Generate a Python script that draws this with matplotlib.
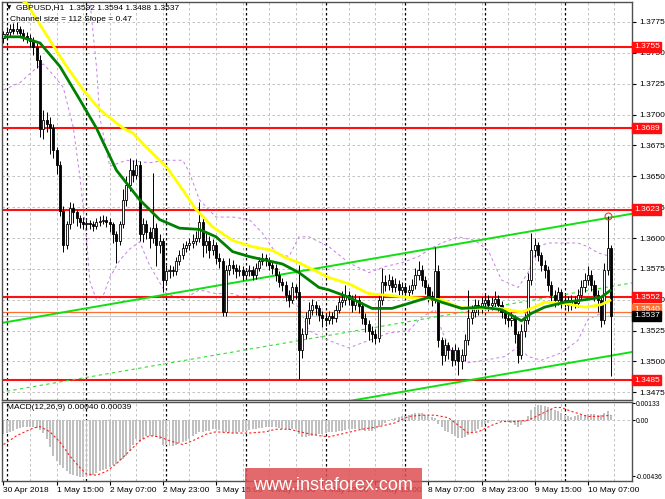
import numpy as np
import matplotlib
matplotlib.use('Agg')
import matplotlib.pyplot as plt
from matplotlib.patches import Rectangle
from matplotlib.transforms import blended_transform_factory

plt.rcParams['font.family'] = ['Liberation Sans', 'DejaVu Sans']

# GBPUSD H1, 30 Apr 23:00 .. 10 May 14:00 (184 bars)
first_open = 1.3762
close = [
    1.3765, 1.3767, 1.3769, 1.3768, 1.3769, 1.3766, 1.3764, 1.3762, 1.3760, 1.3755,
    1.3744, 1.3688, 1.3696, 1.3692, 1.3689, 1.3671, 1.3659, 1.3622, 1.3594, 1.3611,
    1.3624, 1.3621, 1.3616, 1.3613, 1.3611, 1.3612, 1.3611, 1.3610, 1.3613, 1.3614,
    1.3615, 1.3613, 1.3611, 1.3603, 1.3598, 1.3611, 1.3631, 1.3643, 1.3655, 1.3651,
    1.3659, 1.3603, 1.3611, 1.3605, 1.3600, 1.3608, 1.3594, 1.3598, 1.3566, 1.3573,
    1.3574, 1.3573, 1.3581, 1.3586, 1.3592, 1.3594, 1.3596, 1.3598, 1.3600, 1.3613,
    1.3594, 1.3598, 1.3590, 1.3594, 1.3584, 1.3581, 1.3540, 1.3574, 1.3578, 1.3576,
    1.3573, 1.3574, 1.3570, 1.3573, 1.3574, 1.3570, 1.3576, 1.3581, 1.3584, 1.3582,
    1.3578, 1.3576, 1.3570, 1.3564, 1.3562, 1.3554, 1.3550, 1.3560, 1.3556, 1.3509,
    1.3522, 1.3535, 1.3542, 1.3546, 1.3543, 1.3538, 1.3535, 1.3534, 1.3537, 1.3535,
    1.3542, 1.3548, 1.3550, 1.3554, 1.3551, 1.3546, 1.3550, 1.3545, 1.3535, 1.3530,
    1.3525, 1.3522, 1.3519, 1.3550, 1.3564, 1.3562, 1.3566, 1.3560, 1.3563, 1.3558,
    1.3560, 1.3556, 1.3558, 1.3562, 1.3570, 1.3574, 1.3566, 1.3560, 1.3553, 1.3550,
    1.3573, 1.3517, 1.3505, 1.3513, 1.3509, 1.3501, 1.3509, 1.3500, 1.3505, 1.3517,
    1.3535, 1.3540, 1.3546, 1.3543, 1.3547, 1.3550, 1.3546, 1.3547, 1.3551, 1.3546,
    1.3540, 1.3535, 1.3534, 1.3535, 1.3522, 1.3505, 1.3525, 1.3534, 1.3566, 1.3590,
    1.3594, 1.3586, 1.3578, 1.3574, 1.3562, 1.3554, 1.3550, 1.3556, 1.3548, 1.3550,
    1.3546, 1.3550, 1.3547, 1.3554, 1.3560, 1.3566, 1.3570, 1.3562, 1.3554, 1.3550,
    1.3534, 1.3574, 1.3592, 1.3537]
high = [
    1.3768, 1.3771, 1.3773, 1.3774, 1.3775, 1.3772, 1.3769, 1.3767, 1.3765, 1.3763,
    1.3758, 1.3748, 1.3704, 1.3702, 1.3698, 1.3692, 1.3674, 1.3662, 1.3626, 1.3614,
    1.3629, 1.3628, 1.3623, 1.3619, 1.3617, 1.3615, 1.3615, 1.3614, 1.3616, 1.3618,
    1.3619, 1.3618, 1.3616, 1.3613, 1.3606, 1.3614, 1.3640, 1.3650, 1.3665, 1.3663,
    1.3664, 1.3662, 1.3616, 1.3615, 1.3609, 1.3653, 1.3612, 1.3603, 1.3600, 1.3578,
    1.3578, 1.3577, 1.3585, 1.3590, 1.3596, 1.3598, 1.3600, 1.3603, 1.3606, 1.3629,
    1.3618, 1.3604, 1.3602, 1.3599, 1.3597, 1.3588, 1.3584, 1.3578, 1.3584, 1.3582,
    1.3579, 1.3578, 1.3577, 1.3576, 1.3578, 1.3577, 1.3580, 1.3585, 1.3588, 1.3587,
    1.3585, 1.3581, 1.3579, 1.3573, 1.3568, 1.3565, 1.3558, 1.3564, 1.3563, 1.3578,
    1.3527, 1.3540, 1.3548, 1.3551, 1.3549, 1.3546, 1.3541, 1.3539, 1.3541, 1.3540,
    1.3546, 1.3552, 1.3557, 1.3562, 1.3557, 1.3554, 1.3555, 1.3553, 1.3548, 1.3539,
    1.3534, 1.3529, 1.3526, 1.3555, 1.3576, 1.3570, 1.3571, 1.3569, 1.3568, 1.3566,
    1.3564, 1.3563, 1.3562, 1.3567, 1.3576, 1.3581, 1.3578, 1.3569, 1.3563, 1.3557,
    1.3593, 1.3578, 1.3520, 1.3518, 1.3516, 1.3512, 1.3514, 1.3512, 1.3510, 1.3522,
    1.3558, 1.3546, 1.3551, 1.3550, 1.3552, 1.3555, 1.3554, 1.3552, 1.3557, 1.3554,
    1.3549, 1.3543, 1.3539, 1.3540, 1.3538, 1.3525, 1.3530, 1.3539, 1.3572, 1.3604,
    1.3600, 1.3597, 1.3589, 1.3582, 1.3577, 1.3565, 1.3558, 1.3560, 1.3559, 1.3555,
    1.3553, 1.3554, 1.3553, 1.3559, 1.3566, 1.3572, 1.3577, 1.3574, 1.3566, 1.3558,
    1.3552, 1.3580, 1.3618, 1.3594]
low = [
    1.3758, 1.3762, 1.3764, 1.3765, 1.3765, 1.3763, 1.3760, 1.3758, 1.3755, 1.3748,
    1.3738, 1.3682, 1.3680, 1.3686, 1.3668, 1.3665, 1.3652, 1.3618, 1.3589, 1.3591,
    1.3607, 1.3612, 1.3610, 1.3608, 1.3607, 1.3608, 1.3607, 1.3606, 1.3607, 1.3610,
    1.3611, 1.3609, 1.3605, 1.3596, 1.3580, 1.3594, 1.3608, 1.3626, 1.3638, 1.3645,
    1.3648, 1.3598, 1.3597, 1.3599, 1.3592, 1.3596, 1.3577, 1.3588, 1.3556, 1.3562,
    1.3568, 1.3569, 1.3570, 1.3578, 1.3583, 1.3589, 1.3590, 1.3592, 1.3594, 1.3597,
    1.3585, 1.3588, 1.3584, 1.3586, 1.3579, 1.3576, 1.3537, 1.3537, 1.3570, 1.3571,
    1.3568, 1.3569, 1.3566, 1.3567, 1.3569, 1.3566, 1.3567, 1.3573, 1.3578, 1.3577,
    1.3574, 1.3571, 1.3565, 1.3560, 1.3557, 1.3549, 1.3544, 1.3547, 1.3551, 1.3486,
    1.3503, 1.3518, 1.3530, 1.3538, 1.3538, 1.3533, 1.3528, 1.3529, 1.3530, 1.3530,
    1.3532, 1.3539, 1.3544, 1.3546, 1.3546, 1.3540, 1.3542, 1.3539, 1.3530, 1.3524,
    1.3517, 1.3516, 1.3514, 1.3516, 1.3546, 1.3557, 1.3558, 1.3556, 1.3556, 1.3554,
    1.3554, 1.3552, 1.3553, 1.3555, 1.3559, 1.3566, 1.3561, 1.3555, 1.3548, 1.3545,
    1.3547, 1.3512, 1.3497, 1.3500, 1.3502, 1.3496, 1.3497, 1.3489, 1.3494, 1.3500,
    1.3513, 1.3530, 1.3536, 1.3538, 1.3539, 1.3543, 1.3541, 1.3542, 1.3543, 1.3541,
    1.3535, 1.3530, 1.3528, 1.3529, 1.3515, 1.3499, 1.3502, 1.3520, 1.3530, 1.3562,
    1.3585, 1.3581, 1.3573, 1.3568, 1.3557, 1.3549, 1.3544, 1.3546, 1.3543, 1.3544,
    1.3541, 1.3542, 1.3543, 1.3544, 1.3550, 1.3556, 1.3562, 1.3557, 1.3549, 1.3540,
    1.3528, 1.3530, 1.3570, 1.3488]

# moving averages (bar index, price)
ma_fast_idx = [0, 5, 11, 17, 23, 28, 34, 41, 47, 53, 59, 64, 69, 74, 79, 84, 89, 95,
               98, 104, 111, 117, 122, 128, 132, 138, 144, 150, 156, 159, 163, 169, 175, 180, 183]
ma_fast = [1.3763, 1.3763, 1.3758, 1.3739, 1.3712, 1.3689, 1.3655, 1.3631, 1.3615, 1.3608,
           1.3607, 1.3601, 1.3589, 1.3585, 1.3582, 1.3579, 1.3572, 1.3560,
           1.3558, 1.3552, 1.3543, 1.3543, 1.3547, 1.3552, 1.3548, 1.3543, 1.3544, 1.3542,
           1.3533, 1.3539, 1.3544, 1.3548, 1.3550, 1.3552, 1.3558]
ma_slow_idx = [4, 7, 14, 19, 24, 29, 36, 39, 44, 49, 54, 58, 63, 69, 75, 81, 85, 89, 95,
               98, 104, 110, 114, 122, 132, 137, 141, 150, 156, 159, 163, 169, 175, 180, 183]
ma_slow = [1.3795, 1.3790, 1.3760, 1.3739, 1.3720, 1.3704, 1.3689, 1.3685, 1.3671, 1.3658,
           1.3639, 1.3623, 1.3609, 1.3598, 1.3593, 1.3590, 1.3584, 1.3580, 1.3572,
           1.3568, 1.3563, 1.3555, 1.3554, 1.3552, 1.3550, 1.3544, 1.3543, 1.3543, 1.3540,
           1.3543, 1.3548, 1.3547, 1.3544, 1.3546, 1.3550]

# bands (purple dashed)
band_up_idx = [24, 26, 28, 29, 32, 37, 44, 49, 54, 56, 59, 64, 69, 74, 78, 82, 86, 89, 92,
               98, 104, 110, 115, 120, 125, 129, 132, 137, 142, 146, 150, 155, 158, 161,
               164, 173, 176, 179, 183]
band_up = [1.3815, 1.3793, 1.3739, 1.3698, 1.3658, 1.3663, 1.3661, 1.3663, 1.3663, 1.3653,
           1.3631, 1.3617, 1.3617, 1.3615, 1.3604, 1.3588, 1.3585, 1.3601, 1.3601,
           1.3593, 1.3580, 1.3572, 1.3577, 1.3580, 1.3585, 1.3592, 1.3596, 1.3601, 1.3598,
           1.3590, 1.3566, 1.3560, 1.3572, 1.3593, 1.3596, 1.3596, 1.3593, 1.3588, 1.3585]
band_lo_idx = [0, 5, 10, 12, 15, 18, 21, 23, 25, 26, 28, 30, 32, 35, 38, 41, 44, 49, 54,
               59, 64, 69, 74, 79, 84, 89, 92, 98, 104, 110, 116, 122, 126, 130, 132, 135,
               140, 145, 151, 155, 158, 162, 168, 173, 176, 180, 183]
band_lo = [1.3720, 1.3726, 1.3738, 1.3741, 1.3732, 1.3722, 1.3690, 1.3650, 1.3600, 1.3565,
           1.3550, 1.3553, 1.3568, 1.3582, 1.3591, 1.3597, 1.3578, 1.3555, 1.3550,
           1.3558, 1.3555, 1.3555, 1.3550, 1.3552, 1.3552, 1.3544, 1.3525, 1.3517, 1.3511,
           1.3517, 1.3523, 1.3525, 1.3536, 1.3542, 1.3525, 1.3507, 1.3499, 1.3501, 1.3504,
           1.3512, 1.3504, 1.3501, 1.3507, 1.3517, 1.3534, 1.3539, 1.3536]

# regression channel, size 112 points, slope 0.47
chan_idx = [-1, 190]
chan_top = [1.3531, 1.3620]
chan_mid = [1.3475, 1.3564]
chan_bot = [1.3419, 1.3508]

levels = [1.3755, 1.3689, 1.3623, 1.3552, 1.3485]
price_ticks = [1.3475, 1.3500, 1.3525, 1.3550, 1.3575, 1.3600, 1.3625,
               1.3650, 1.3675, 1.3700, 1.3725, 1.3750, 1.3775]

# MACD(12,26,9) main values per bar, in 1e-5
macd_hist = [
    -110, -100, -90, -80, -70, -62, -55, -50, -52, -56,
    -60, -75, -100, -150, -210, -280, -320, -350, -370, -400,
    -420, -430, -435, -440, -442, -440, -435, -425, -410, -400,
    -390, -380, -365, -350, -340, -320, -300, -280, -240, -190,
    -150, -170, -150, -120, -125, -125, -130, -150, -190, -195,
    -200, -200, -190, -180, -170, -160, -145, -120, -110, -95,
    -90, -85, -80, -70, -70, -75, -90, -95, -100, -100,
    -98, -95, -90, -85, -78, -70, -66, -62, -60, -55,
    -52, -50, -55, -62, -70, -72, -75, -70, -72, -110,
    -130, -128, -125, -120, -115, -110, -105, -100, -95, -90,
    -88, -85, -80, -75, -72, -70, -70, -72, -78, -82,
    -85, -80, -70, -55, -40, -20, -5, 10, 20, 28,
    32, 36, 40, 48, 55, 60, 55, 45, 30, 25,
    20, -30, -55, -80, -95, -110, -125, -140, -140, -130,
    -115, -100, -80, -65, -50, -30, -18, -8, 0, -5,
    -8, -10, -15, -25, -40, -50, -40, -15, 30, 80,
    105, 120, 118, 110, 100, 90, 80, 70, 55, 40,
    30, 28, 32, 38, 42, 45, 50, 52, 50, 45,
    40, 60, 75, 40]
sig_idx = [0, 4, 9, 11, 14, 17, 20, 23, 25, 28, 31, 34, 38, 41, 44, 47, 50, 54, 57, 61,
           64, 69, 74, 79, 82, 86, 91, 95, 98, 103, 108, 113, 118, 122, 126, 130, 134,
           137, 140, 143, 147, 150, 154, 158, 162, 166, 168, 171, 176, 179, 183]
sig_val = [-190, -120, -60, -50, -90, -170, -280, -370, -420, -430, -400, -340, -240, -160,
           -120, -130, -160, -190, -160, -110, -90, -100, -100, -90, -70, -70, -100, -120,
           -130, -100, -70, -50, -20, 30, 40, 40, 20, -40, -100, -90, -40, -10, -10, 0,
           50, 100, 100, 70, 30, 30, 39]

date_idx = [0, 16, 32, 48, 64, 80, 96, 112, 128, 144, 160, 176]
date_labels = ['30 Apr 2018', '1 May 15:00', '2 May 07:00', '2 May 23:00', '3 May 15:00',
               '4 May 07:00', '4 May 23:00', '7 May 15:00', '8 May 07:00', '8 May 23:00',
               '9 May 15:00', '10 May 07:00']
day_sep = [1, 25, 49, 73, 97, 121, 145, 169]

close = np.array(close)
high = np.array(high)
low = np.array(low)
idx = np.arange(len(close))
opens = np.r_[first_open, close[:-1]]

fig = plt.figure(figsize=(6.65, 4.99), dpi=100)
ax = fig.add_axes([2 / 665, 1 - 400 / 499, 630 / 665, 398 / 499])
am = fig.add_axes([2 / 665, 1 - 481 / 499, 630 / 665, 79 / 499])

xl = (-0.45, 189.3)
for a in (ax, am):
    a.set_xlim(*xl)
    for k in range(8, 190, 8):
        a.axvline(k, color='#b8b8b8', ls=(0, (3, 3)), lw=0.6, zorder=0)
    for d in day_sep:
        a.axvline(d, color='black', ls=(0, (2, 2)), lw=0.9, zorder=0.5)
    for s in a.spines.values():
        s.set_color('#505050')
        s.set_linewidth(1.0)

# main price panel
ax.set_ylim(1.34688, 1.37912)
for p in price_ticks:
    ax.axhline(p, color='#b8b8b8', ls=(0, (3, 3)), lw=0.6, zorder=0)

ax.plot(band_up_idx, band_up, color='#c47ee8', ls=(0, (3, 3)), lw=0.7, zorder=1)
ax.plot(band_lo_idx, band_lo, color='#c47ee8', ls=(0, (3, 3)), lw=0.7, zorder=1)

for lv in levels:
    ax.axhline(lv, color='#ff1010', lw=1.5, zorder=2)
ax.axhline(1.3540, color='#ff7030', lw=0.9, zorder=2)
ax.axhline(1.3537, color='#c8c8c8', lw=0.8, zorder=2)

ax.plot(chan_idx, chan_top, color='#10e010', lw=1.4, zorder=2)
ax.plot(chan_idx, chan_bot, color='#10e010', lw=1.4, zorder=2)
ax.plot(chan_idx, chan_mid, color='#30e030', ls=(0, (3, 3)), lw=0.8, zorder=2)

# candles
ax.vlines(idx, low, high, color='black', lw=0.7, zorder=3)
up = close >= opens
dn = ~up
ax.bar(idx[up], (close - opens)[up], bottom=opens[up], width=0.62,
       facecolor='white', edgecolor='black', lw=0.6, zorder=4)
ax.bar(idx[dn], (close - opens)[dn], bottom=opens[dn], width=0.62,
       facecolor='black', edgecolor='black', lw=0.6, zorder=4)

ax.plot(ma_slow_idx, ma_slow, color='#ffff00', lw=2.0, zorder=5, solid_capstyle='butt')
ax.plot(ma_fast_idx, ma_fast, color='#008000', lw=2.0, zorder=6, solid_capstyle='butt')

ax.plot(182, 1.3618, 'o', mfc='none', mec='#ff3030', ms=5, mew=0.8, zorder=7)

ax.set_xticks([])
ax.yaxis.tick_right()
ax.set_yticks(price_ticks)
ax.set_yticklabels(['%.4f' % p for p in price_ticks])
ax.tick_params(axis='y', labelsize=6, length=3, pad=2, colors='black')

tr = blended_transform_factory(ax.transAxes, ax.transData)
for lv in levels:
    ax.text(1.003, lv, '%.4f' % lv, transform=tr, color='white', fontsize=6,
            va='center', ha='left', clip_on=False, zorder=10,
            bbox=dict(boxstyle='square,pad=0.2', fc='#ff1010', ec='#ff1010'))
ax.text(1.003, 1.3542, '1.3540', transform=tr, color='white', fontsize=6,
        va='center', ha='left', clip_on=False, zorder=10,
        bbox=dict(boxstyle='square,pad=0.2', fc='#ff7030', ec='#ff7030'))
ax.text(1.003, 1.3537, '1.3537', transform=tr, color='white', fontsize=6,
        va='center', ha='left', clip_on=False, zorder=11,
        bbox=dict(boxstyle='square,pad=0.2', fc='black', ec='black'))

ax.text(0.008, 0.985, '\u25bc', transform=ax.transAxes, fontsize=4, va='center',
        ha='left', family=['DejaVu Sans'], zorder=12)
ax.text(0.022, 0.985, 'GBPUSD,H1  1.3592 1.3594 1.3488 1.3537', transform=ax.transAxes,
        fontsize=6, va='center', ha='left', zorder=12)
ax.text(0.013, 0.955, 'Channel size = 112 Slope = 0.47', transform=ax.transAxes,
        fontsize=6, va='center', ha='left', zorder=12)

# MACD panel
am.set_ylim(-0.00475, 0.00143)
am.axhline(0, color='#b8b8b8', ls=(0, (3, 3)), lw=0.6, zorder=0)
am.bar(idx, np.array(macd_hist) * 1e-5, width=0.6, color='#c0c0c0', zorder=2)
am.plot(sig_idx, np.array(sig_val) * 1e-5, color='#ff2020', ls=(0, (2, 2)), lw=0.8, zorder=3)
am.yaxis.tick_right()
am.set_yticks([-0.00436, 0.0, 0.00133])
am.set_yticklabels(['-0.00436', '0.00', '0.00133'])
am.tick_params(axis='y', labelsize=4.9, length=2, pad=1)
am.set_xticks(date_idx)
am.set_xticklabels(date_labels, ha='left')
am.tick_params(axis='x', labelsize=6, length=3, pad=1)
am.text(0.008, 0.93, 'MACD(12,26,9) 0.00040 0.00039', transform=am.transAxes,
        fontsize=6, va='center', ha='left')

# watermark
fig.patches.append(Rectangle((245 / 665, 0), 177 / 665, 31 / 499, transform=fig.transFigure,
                             facecolor='#dd4f52', alpha=0.85, edgecolor='none', zorder=5))
fig.text(333 / 665, 1 - 486 / 499, 'www.instaforex.com', color='white', fontsize=13,
         ha='center', va='center', zorder=6)

fig.savefig('out.png', dpi=100)
